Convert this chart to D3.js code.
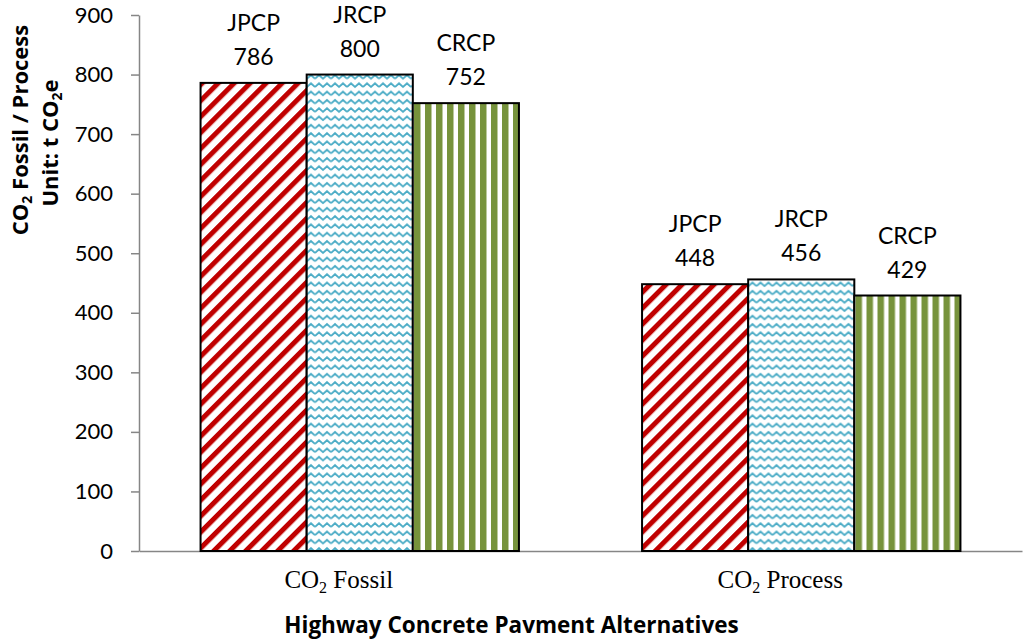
<!DOCTYPE html>
<html>
<head>
<meta charset="utf-8">
<script src="https://cdn.jsdelivr.net/npm/d3@7"></script>
<style>
  body { margin: 0; background: #fff; }
  .axis path, .axis line { stroke: #868686; stroke-width: 1.5; }
  .axis text { font-family: Lato, "Open Sans", sans-serif; font-size: 22px; fill: #000; }
</style>
</head>
<body>
<script>
// data
var categories = ["CO2 Fossil", "CO2 Process"];
var series = ["JPCP", "JRCP", "CRCP"];
var fossilValues = [786, 800, 752];
var processValues = [448, 456, 429];
var yTicks = [0, 100, 200, 300, 400, 500, 600, 700, 800, 900];

var rows = [
  { cat: categories[0], values: fossilValues },
  { cat: categories[1], values: processValues }
];

var W = 1024, H = 641;
var margin = { top: 15, right: 2, bottom: 90, left: 139 };
var width = W - margin.left - margin.right,
  height = H - margin.top - margin.bottom;

var svg = d3.select("body").append("svg")
  .attr("width", W)
  .attr("height", H);

// fill patterns
var defs = svg.append("defs");

var pRed = defs.append("pattern")
  .attr("id", "pat-JPCP")
  .attr("patternUnits", "userSpaceOnUse")
  .attr("width", 11.3).attr("height", 11.3)
  .attr("patternTransform", "rotate(45)");
pRed.append("rect").attr("width", 11.3).attr("height", 11.3).attr("fill", "#fff");
pRed.append("rect").attr("width", 5).attr("height", 11.3).attr("fill", "#c00000");

var pWave = defs.append("pattern")
  .attr("id", "pat-JRCP")
  .attr("patternUnits", "userSpaceOnUse")
  .attr("width", 16).attr("height", 8.3);
pWave.append("rect").attr("width", 16).attr("height", 8.3).attr("fill", "#fff");
pWave.append("path")
  .attr("d", "M0,5.5 L4,2 L8,5.5 L12,2 L16,5.5")
  .attr("fill", "none")
  .attr("stroke", "#4bacc6")
  .attr("stroke-width", 1.8);

var pGreen = defs.append("pattern")
  .attr("id", "pat-CRCP")
  .attr("patternUnits", "userSpaceOnUse")
  .attr("width", 11).attr("height", 11);
pGreen.append("rect").attr("width", 11).attr("height", 11).attr("fill", "#fff");
pGreen.append("rect").attr("width", 6.5).attr("height", 11).attr("fill", "#77933c");

var g = svg.append("g")
  .attr("transform", "translate(" + margin.left + "," + margin.top + ")");

var x = d3.scaleBand().domain(categories).range([0, width]);
var x1 = d3.scaleBand().domain(series).range([0, x.bandwidth()]).paddingOuter(0.58);
var y = d3.scaleLinear().domain([0, 900]).range([height, 0]);

// y axis
g.append("g")
  .attr("class", "axis")
  .call(d3.axisLeft(y).tickValues(yTicks).tickSize(8).tickPadding(18).tickSizeOuter(0));

// x axis
var xAxisG = g.append("g")
  .attr("class", "axis")
  .attr("transform", "translate(0," + height + ")")
  .call(d3.axisBottom(x).tickSize(0).tickFormat(""));

// bars
var groups = g.selectAll(".grp")
  .data(rows)
  .enter().append("g")
  .attr("class", "grp")
  .attr("transform", function (d) { return "translate(" + x(d.cat) + ",0)"; });

var bars = groups.selectAll(".bar")
  .data(function (d) {
    return d.values.map(function (v, i) { return { s: series[i], v: v }; });
  })
  .enter();

bars.append("rect")
  .attr("class", "bar")
  .attr("x", function (d) { return x1(d.s); })
  .attr("y", function (d) { return y(d.v); })
  .attr("width", x1.bandwidth())
  .attr("height", function (d) { return height - y(d.v); })
  .attr("fill", function (d) { return "url(#pat-" + d.s + ")"; })
  .attr("stroke", "#000")
  .attr("stroke-width", 2);

// data labels: series name + value
var lbl = bars.append("text")
  .attr("text-anchor", "middle")
  .style("font-family", "Lato, 'Open Sans', sans-serif")
  .style("font-size", "23px");
lbl.append("tspan")
  .attr("x", function (d) { return x1(d.s) + x1.bandwidth() / 2; })
  .attr("y", function (d) { return y(d.v) - 52; })
  .text(function (d) { return d.s; });
lbl.append("tspan")
  .attr("x", function (d) { return x1(d.s) + x1.bandwidth() / 2; })
  .attr("y", function (d) { return y(d.v) - 18; })
  .text(function (d) { return d.v; });

// category labels with subscript
var catText = xAxisG.selectAll(".cat")
  .data(categories)
  .enter().append("text")
  .attr("class", "cat")
  .attr("x", function (d) { return x(d) + x.bandwidth() / 2 - 21; })
  .attr("y", 37)
  .attr("text-anchor", "middle")
  .style("font-family", "'Liberation Serif', 'Times New Roman', serif")
  .style("font-size", "25px")
  .style("fill", "#000");
catText.append("tspan").text("CO");
catText.append("tspan").attr("dy", 5).style("font-size", "16px").text("2");
catText.append("tspan").attr("dy", -5).text(function (d) { return d.replace("CO2", ""); });

// x title
svg.append("text")
  .attr("x", margin.left + width / 2 - 69)
  .attr("y", 633)
  .attr("text-anchor", "middle")
  .style("font-family", "'Open Sans', Lato, sans-serif")
  .style("font-weight", "bold")
  .style("font-size", "22.5px")
  .text("Highway Concrete Pavment Alternatives");

// y title, two lines
var yt1 = svg.append("text")
  .attr("transform", "translate(28,130) rotate(-90)")
  .attr("text-anchor", "middle")
  .style("font-family", "'Open Sans', Lato, sans-serif")
  .style("font-weight", "bold")
  .style("font-size", "22px");
yt1.append("tspan").text("CO");
yt1.append("tspan").attr("dy", 4).style("font-size", "14px").text("2");
yt1.append("tspan").attr("dy", -4).text(" Fossil / Process");

var yt2 = svg.append("text")
  .attr("transform", "translate(58,143) rotate(-90)")
  .attr("text-anchor", "middle")
  .style("font-family", "'Open Sans', Lato, sans-serif")
  .style("font-weight", "bold")
  .style("font-size", "22px");
yt2.append("tspan").text("Unit: t CO");
yt2.append("tspan").attr("dy", 4).style("font-size", "14px").text("2");
yt2.append("tspan").attr("dy", -4).text("e");
</script>
</body>
</html>
